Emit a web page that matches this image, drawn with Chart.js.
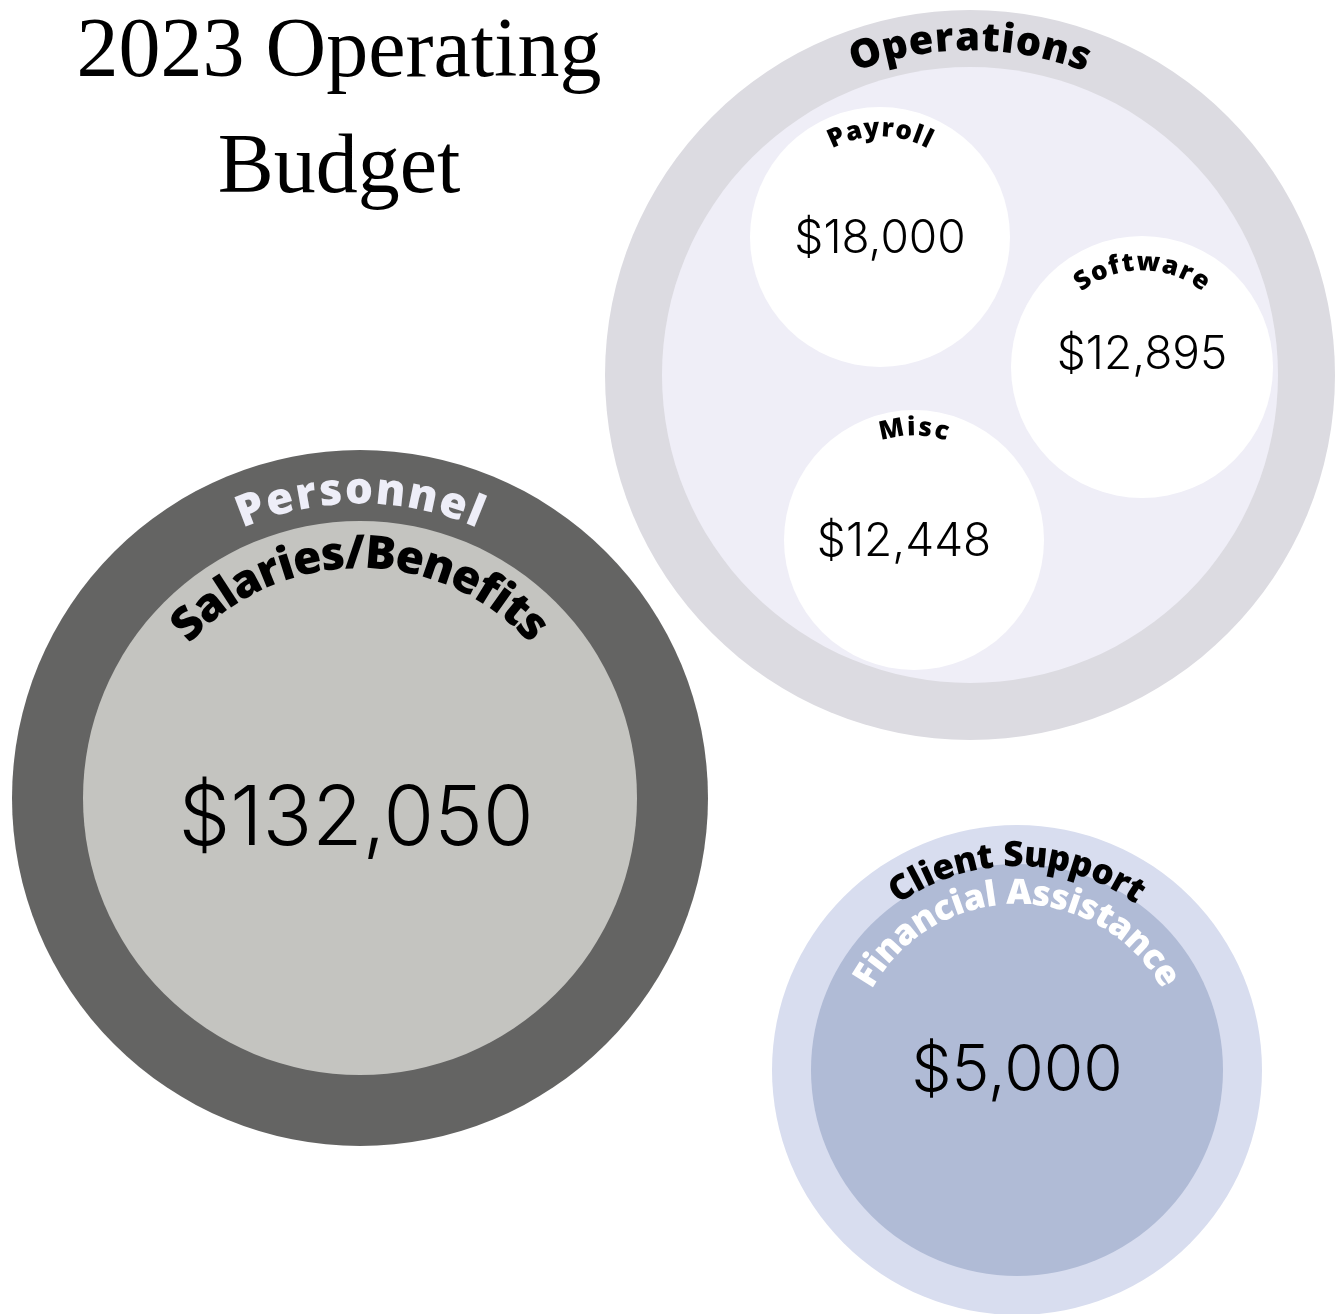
<!DOCTYPE html>
<html>
<head>
<meta charset="utf-8">
<script src="https://cdn.jsdelivr.net/npm/chart.js@4"></script>
<style>
  html, body { margin: 0; padding: 0; background: #fff; }
  #wrap { width: 1337px; height: 1314px; position: relative; }
</style>
</head>
<body>
<div id="wrap"><canvas id="budget"></canvas></div>
<script>
// --- data ---
const titleLines = ["2023 Operating", "Budget"];
const groupNames = ["Operations", "Personnel", "Client Support"];
const itemNames = ["Payroll", "Software", "Misc", "Salaries/Benefits", "Financial Assistance"];
const itemGroups = ["Operations", "Operations", "Operations", "Personnel", "Client Support"];
const itemAmounts = [18000, 12895, 12448, 132050, 5000];

// --- layout (axis units, hand placed like the original infographic) ---
const groupX = [970, 360, 1017];
const groupY = [375, 798, 1070];
const groupR = [365, 348, 245];
const groupInnerR = [308, 0, 0];
const itemX = [880, 1142, 914, 360, 1017];
const itemY = [237, 367, 540, 798, 1070];
const itemR = [130, 131, 130, 277, 206];

// --- styles ---
const groupColors = ["#dcdbe1", "#646463", "#d8ddef"];
const groupInnerColor = "#efeef7";
const itemColors = ["#ffffff", "#ffffff", "#ffffff", "#c4c4c0", "#b0bbd6"];
const groupLabel = [
  { r: 336, size: 40, color: "#000", sp: 1.5 },
  { r: 307, size: 44, color: "#eeeef8", sp: 3 },
  { r: 214, size: 35, color: "#000", sp: 0.5 }
];
const itemLabel = [
  { r: 108, size: 26, color: "#000", sp: 2 },
  { r: 104, size: 26, color: "#000", sp: 2.5 },
  { r: 112, size: 26, color: "#000", sp: 3 },
  { r: 243, size: 46, color: "#000", sp: 0 },
  { r: 176, size: 35, color: "#fff", sp: 0.5 }
];
const valueSize = [46, 46, 46, 82, 64];
const valueDx = [0, 0, -10, -4, 0];
const valueDy = [2, -12, 2, 22, 2];

const fmt = v => "$" + v.toLocaleString("en-US");

function arcText(ctx, text, cx, cy, radius, size, color, spacing) {
  ctx.save();
  ctx.font = "800 " + size + "px 'Open Sans', sans-serif";
  ctx.fillStyle = color;
  ctx.textAlign = "center";
  ctx.textBaseline = "middle";
  const chars = [...text];
  const widths = chars.map(c => ctx.measureText(c).width);
  const total = widths.reduce((a, b) => a + b, 0) + spacing * (chars.length - 1);
  let pos = -total / 2;
  chars.forEach((c, i) => {
    const mid = pos + widths[i] / 2;
    const a = -Math.PI / 2 + mid / radius;
    ctx.save();
    ctx.translate(cx + radius * Math.cos(a), cy + radius * Math.sin(a));
    ctx.rotate(a + Math.PI / 2);
    ctx.fillText(c, 0, 0);
    ctx.restore();
    pos += widths[i] + spacing;
  });
  ctx.restore();
}

const labelPlugin = {
  id: "labels",
  afterDatasetsDraw(chart) {
    const ctx = chart.ctx;
    const xs = chart.scales.x, ys = chart.scales.y;
    groupNames.forEach((g, i) => {
      const s = groupLabel[i];
      arcText(ctx, g, xs.getPixelForValue(groupX[i]), ys.getPixelForValue(groupY[i]), s.r, s.size, s.color, s.sp);
    });
    itemNames.forEach((n, i) => {
      const cx = xs.getPixelForValue(itemX[i]), cy = ys.getPixelForValue(itemY[i]);
      const s = itemLabel[i];
      arcText(ctx, n, cx, cy, s.r, s.size, s.color, s.sp);
      ctx.save();
      ctx.font = "300 " + valueSize[i] + "px 'Inter', sans-serif";
      ctx.fillStyle = "#000";
      ctx.textAlign = "center";
      ctx.textBaseline = "middle";
      ctx.fillText(fmt(itemAmounts[i]), cx + valueDx[i], cy + valueDy[i]);
      ctx.restore();
    });
    // title
    ctx.save();
    ctx.font = "400 84px 'Liberation Serif', serif";
    ctx.fillStyle = "#000";
    ctx.textAlign = "center";
    ctx.textBaseline = "alphabetic";
    ctx.fillText(titleLines[0], 339, 76);
    ctx.fillText(titleLines[1], 339, 192);
    ctx.restore();
  }
};

new Chart(document.getElementById("budget"), {
  type: "bubble",
  data: {
    datasets: [
      {
        label: "Items",
        data: itemNames.map((n, i) => ({ x: itemX[i], y: itemY[i], r: itemR[i] })),
        backgroundColor: itemColors,
        order: 0
      },
      {
        label: "Group area",
        data: groupNames.map((g, i) => ({ x: groupX[i], y: groupY[i], r: groupInnerR[i] })),
        backgroundColor: groupInnerColor,
        order: 1
      },
      {
        label: "Groups",
        data: groupNames.map((g, i) => ({ x: groupX[i], y: groupY[i], r: groupR[i] })),
        backgroundColor: groupColors,
        order: 2
      }
    ]
  },
  options: {
    responsive: true,
    maintainAspectRatio: false,
    animation: false,
    events: [],
    layout: { padding: 0, autoPadding: false },
    elements: { point: { borderWidth: 0, hoverRadius: 0 } },
    datasets: { bubble: { clip: false } },
    scales: {
      x: { type: "linear", min: 0, max: 1337, display: false },
      y: { type: "linear", min: 0, max: 1314, reverse: true, display: false }
    },
    plugins: {
      legend: { display: false },
      tooltip: { enabled: false },
      title: { display: false }
    }
  },
  plugins: [labelPlugin]
});
</script>
</body>
</html>
